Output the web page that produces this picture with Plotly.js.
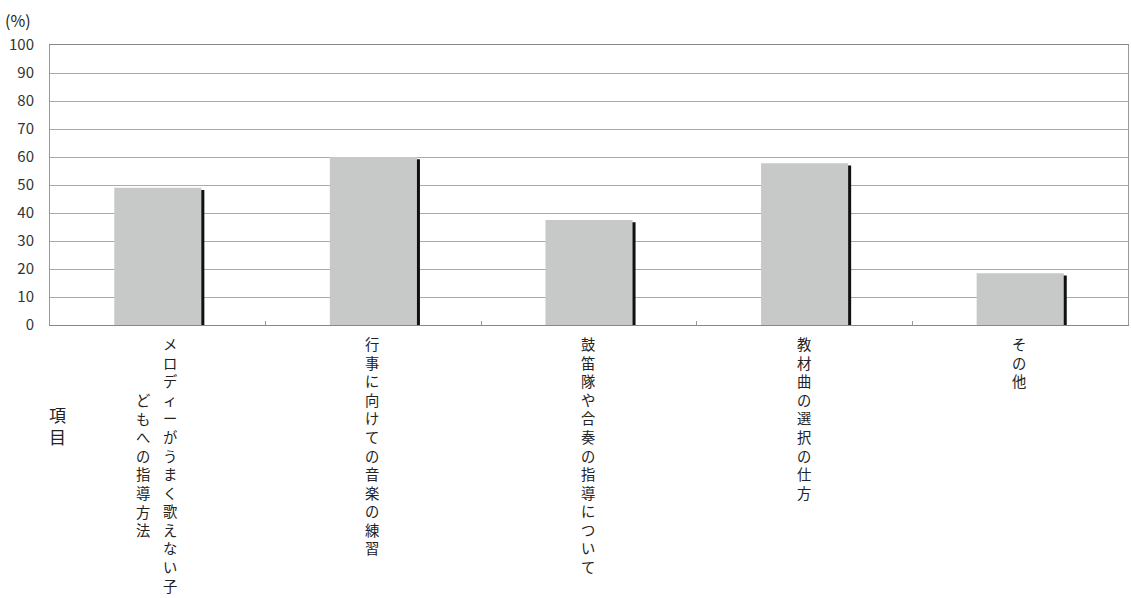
<!DOCTYPE html>
<html>
<head>
<meta charset="utf-8">
<script src="https://cdn.plot.ly/plotly-3.0.1.min.js"></script>
<style>html,body{margin:0;padding:0;background:#fff;}#chart{width:1131px;height:598px;}</style>
</head>
<body>
<div id="chart"></div>
<script>
// Data
const categories = [
  "メロディーがうまく歌えない子どもへの指導方法",
  "行事に向けての音楽の練習",
  "鼓笛隊や合奏の指導について",
  "教材曲の選択の仕方",
  "その他"
];
const values = [49, 60, 37.5, 57.8, 18.5];
// vertical label columns (right column first)
const labelColumns = [
  ["メロディーがうまく歌えない子", "どもへの指導方法"],
  ["行事に向けての音楽の練習"],
  ["鼓笛隊や合奏の指導について"],
  ["教材曲の選択の仕方"],
  ["その他"]
];
const yTickVals = [0, 10, 20, 30, 40, 50, 60, 70, 80, 90, 100];
const yUnit = "(%)";
const xTitle = "項目";

const FONT = "'Noto Sans CJK JP', 'Noto Sans', sans-serif";
const barWidth = 0.404;
const shadowPx = 3;
const catPx = (1131 - 50 - 3) / categories.length;

const shadow = {
  type: 'bar', x: categories, y: values.map(v => v - 0.8),
  width: barWidth, offset: -barWidth / 2 + shadowPx / catPx,
  marker: {color: '#111', line: {width: 0}},
  hoverinfo: 'skip', showlegend: false
};
const bars = {
  type: 'bar', x: categories, y: values,
  width: barWidth, offset: -barWidth / 2,
  marker: {color: '#c7c8c8', line: {width: 0}},
  showlegend: false
};

const lineH = 18.6;
const annotations = [];
labelColumns.forEach((cols, i) => {
  const maxLen = Math.max(...cols.map(c => Array.from(c).length));
  const n = cols.length;
  cols.forEach((col, j) => {
    const chars = Array.from(col);
    annotations.push({
      xref: 'x', yref: 'paper', x: categories[i], y: 0,
      xanchor: 'center', yanchor: 'top',
      xshift: ((n - 1) / 2 - j) * 27 - 1,
      yshift: -6 - (maxLen - chars.length) / 2 * lineH,
      text: chars.join('<br>'), showarrow: false,
      font: {family: FONT, size: 14.3, color: '#222'}
    });
  });
});
annotations.push({
  xref: 'paper', yref: 'paper', x: 7 / 1078, y: (325 - 425) / 280,
  xanchor: 'center', yanchor: 'middle', showarrow: false,
  text: Array.from(xTitle).join('<br>'),
  font: {family: FONT, size: 17, color: '#222'}
});
annotations.push({
  xref: 'paper', yref: 'paper', x: -47 / 1078, y: (325 - 20) / 280,
  xanchor: 'left', yanchor: 'middle', showarrow: false,
  text: yUnit, font: {family: FONT, size: 16, color: '#222'}
});

const layout = {
  width: 1131, height: 598,
  margin: {l: 50, r: 3, t: 45, b: 273},
  paper_bgcolor: '#fff', plot_bgcolor: '#fff',
  barmode: 'overlay',
  xaxis: {
    type: 'category', showticklabels: false,
    showline: true, linecolor: '#888', linewidth: 1, mirror: true,
    ticks: 'inside', tickson: 'boundaries', ticklen: 4, tickcolor: '#999',
    showgrid: false, zeroline: false, fixedrange: true
  },
  yaxis: {
    range: [0, 100], tickvals: yTickVals,
    showline: true, linecolor: '#999', linewidth: 1, mirror: true,
    showgrid: true, gridcolor: '#aaa', gridwidth: 1,
    zeroline: false, ticks: '', ticklabelstandoff: 12,
    tickfont: {family: FONT, size: 15, color: '#333'}, fixedrange: true
  },
  annotations: annotations,
  font: {family: FONT}
};

Plotly.newPlot('chart', [shadow, bars], layout, {displayModeBar: false, staticPlot: true});
</script>
</body>
</html>
